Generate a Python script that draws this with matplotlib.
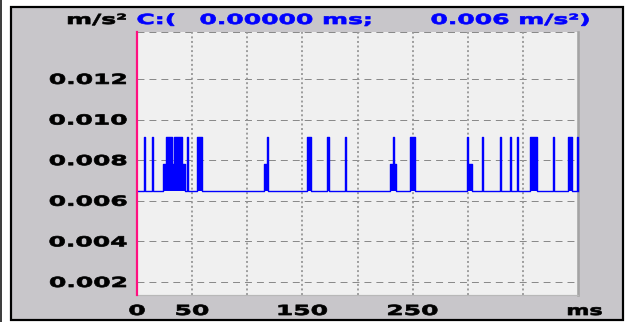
import matplotlib
matplotlib.use("Agg")
import matplotlib.pyplot as plt
from matplotlib.patches import Rectangle
from matplotlib.lines import Line2D
from matplotlib.patheffects import AbstractPathEffect
from matplotlib.transforms import Affine2D, blended_transform_factory, ScaledTranslation

# ---------------- data ----------------
time_range_ms = (0, 400)
accel_range = (0.00136, 0.01431)

y_ticks = [0.002, 0.004, 0.006, 0.008, 0.010, 0.012]
y_tick_labels = ["0.002", "0.004", "0.006", "0.008", "0.010", "0.012"]

x_grid_ms = [50, 100, 150, 200, 250, 300, 350]
x_tick_values = [0, 50, 150, 250]
x_tick_labels = ["0", "50", "150", "250"]
x_unit = "ms"
y_unit = "m/s\u00b2"

cursor_time = "0.00000"
cursor_value = "0.006"

# idle level of the acceleration trace and its pulses (start, end, level)
base_level = 0.00648
seg_start = [6.5, 13.7, 23.9, 26.2, 31.3, 33.5, 40.5, 45.0, 54.0,
             115.2, 117.7, 154.2, 172.7, 188.6, 229.2, 231.9, 233.1,
             247.3, 299.3, 300.6, 313.2, 329.2, 338.3, 344.9, 356.8,
             377.5, 390.6, 399.3]
seg_end = [7.5, 14.7, 26.2, 31.3, 33.5, 40.5, 43.5, 46.6, 58.6,
           117.7, 118.8, 158.0, 173.7, 189.6, 231.9, 233.1, 235.3,
           251.8, 300.6, 303.9, 314.2, 330.2, 339.3, 345.9, 362.8,
           378.5, 394.8, 400.0]
seg_level = [0.00912, 0.00912, 0.00780, 0.00912, 0.00780, 0.00912, 0.00780, 0.00912, 0.00912,
             0.00780, 0.00912, 0.00912, 0.00912, 0.00912, 0.00780, 0.00912, 0.00780,
             0.00912, 0.00912, 0.00780, 0.00912, 0.00912, 0.00912, 0.00912, 0.00912,
             0.00912, 0.00912, 0.00912]

# ---------------- styling ----------------
W, H, DPI = 630, 322, 100
PX = 72.0 / DPI          # points per pixel
PANEL = "#C8C6CA"
PLOT_BG = "#F0F0F0"
TRACE = "#0000FF"
AXIS_PINK = "#FF1080"
GRID = "#8A8A8A"

plt.rcParams["lines.scale_dashes"] = False
plt.rcParams["font.family"] = ["DejaVu Sans"]


def fx(x):
    return x / W


def fy(y):
    return 1.0 - y / H


class Widen(AbstractPathEffect):
    """Stretch glyphs horizontally and thicken them, like the instrument's bitmap font."""

    def __init__(self, factor=1.8, anchor="left", weight=0.7):
        super().__init__()
        self.factor = factor
        self.anchor = anchor
        self.weight = weight

    def draw_path(self, renderer, gc, tpath, affine, rgbFace=None):
        ext = tpath.get_extents(affine)
        x0 = {"left": ext.x0, "right": ext.x1,
              "center": 0.5 * (ext.x0 + ext.x1)}[self.anchor]
        widen = Affine2D().translate(-x0, 0).scale(self.factor, 1.0).translate(x0, 0)
        gc0 = renderer.new_gc()
        gc0.copy_properties(gc)
        gc0.set_linewidth(self.weight * PX)
        if rgbFace is not None:
            gc0.set_foreground(rgbFace)
        renderer.draw_path(gc0, tpath, affine + widen, rgbFace)
        gc0.restore()


FONT = dict(fontsize=10, fontweight="bold")
STRETCH = 1.8

fig = plt.figure(figsize=(W / DPI, H / DPI), dpi=DPI, facecolor="white")

# outer frame lines
fig.add_artist(Line2D([fx(1), fx(1)], [fy(0), fy(H)], color="black",
                      lw=1.5 * PX, transform=fig.transFigure))
fig.add_artist(Rectangle((fx(11), fy(319.5)), fx(623.3) - fx(11), fy(6.5) - fy(319.5),
                         facecolor=PANEL, edgecolor="black", lw=2.2 * PX,
                         transform=fig.transFigure, zorder=0))

# plot area
L, R, T, B = 137, 578, 32, 295
ax = fig.add_axes([fx(L), fy(B), (R - L) / W, (B - T) / H])
ax.set_facecolor(PLOT_BG)
ax.set_xlim(*time_range_ms)
ax.set_ylim(*accel_range)
ax.set_xticks([])
ax.set_yticks([])
ax.spines["top"].set_visible(False)
ax.spines["left"].set_color(AXIS_PINK)
ax.spines["left"].set_linewidth(2.2 * PX)
ax.spines["left"].set_zorder(5)
ax.spines["right"].set_color("#A4A4A4")
ax.spines["right"].set_linewidth(2.6 * PX)
ax.spines["bottom"].set_color("#B8B8B8")
ax.spines["bottom"].set_linewidth(1.2 * PX)

# grid: dashed horizontals, dotted verticals
ax.hlines(y_ticks + [accel_range[1]], time_range_ms[0], time_range_ms[1],
          colors=GRID, lw=1.0 * PX, linestyles=(0, (5.0, 3.6)), zorder=1, clip_on=False)
ax.vlines(x_grid_ms, accel_range[0], accel_range[1], colors="#959595",
          lw=1.8 * PX, linestyles=(0, (1.4, 1.9)), zorder=1)

# acceleration trace as a step signal
t = [time_range_ms[0]]
v = [base_level]
segs = list(zip(seg_start, seg_end, seg_level))
for i, (s, e, lev) in enumerate(segs):
    t.append(s)
    v.append(lev)
    nxt = segs[i + 1][0] if i + 1 < len(segs) else None
    if nxt is None or nxt > e + 1e-9:
        t.append(e)
        v.append(base_level)
t.append(time_range_ms[1])
v.append(base_level)

ax.fill_between(t, base_level, v, step="post", color=TRACE, lw=0, zorder=2)
ax.plot(t, v, drawstyle="steps-post", color=TRACE, lw=1.4 * PX, zorder=3, clip_on=False)

# y tick labels (right aligned, baseline a few pixels below the gridline)
ylab_tr = blended_transform_factory(fig.transFigure, ax.transData) + \
    ScaledTranslation(0, -5.0 / DPI, fig.dpi_scale_trans)
for val, lab in zip(y_ticks, y_tick_labels):
    ax.text(fx(127), val, lab, transform=ylab_tr, ha="right", va="baseline",
            color="black", path_effects=[Widen(STRETCH, "right")], **FONT)

# x tick labels
xlab_tr = blended_transform_factory(ax.transData, fig.transFigure)
for val, lab in zip(x_tick_values, x_tick_labels):
    ax.text(val, fy(315), lab, transform=xlab_tr, ha="center", va="baseline",
            color="black", path_effects=[Widen(STRETCH, "center")], **FONT)

fig.text(fx(567), fy(315), x_unit, ha="left", va="baseline", color="black",
         path_effects=[Widen(1.6, "left")], **FONT)

# header: unit and cursor readout
fig.text(fx(67), fy(24), y_unit, ha="left", va="baseline", color="black",
         path_effects=[Widen(STRETCH, "left")], **FONT)
fig.text(fx(137), fy(24), "C:(", ha="left", va="baseline", color=TRACE,
         path_effects=[Widen(STRETCH, "left")], **FONT)
fig.text(fx(200), fy(24), f"{cursor_time} ms;", ha="left", va="baseline", color=TRACE,
         path_effects=[Widen(STRETCH, "left")], **FONT)
fig.text(fx(431), fy(24), f"{cursor_value} {y_unit})", ha="left", va="baseline", color=TRACE,
         path_effects=[Widen(STRETCH, "left")], **FONT)

fig.savefig("out.png", dpi=DPI, facecolor="white")
